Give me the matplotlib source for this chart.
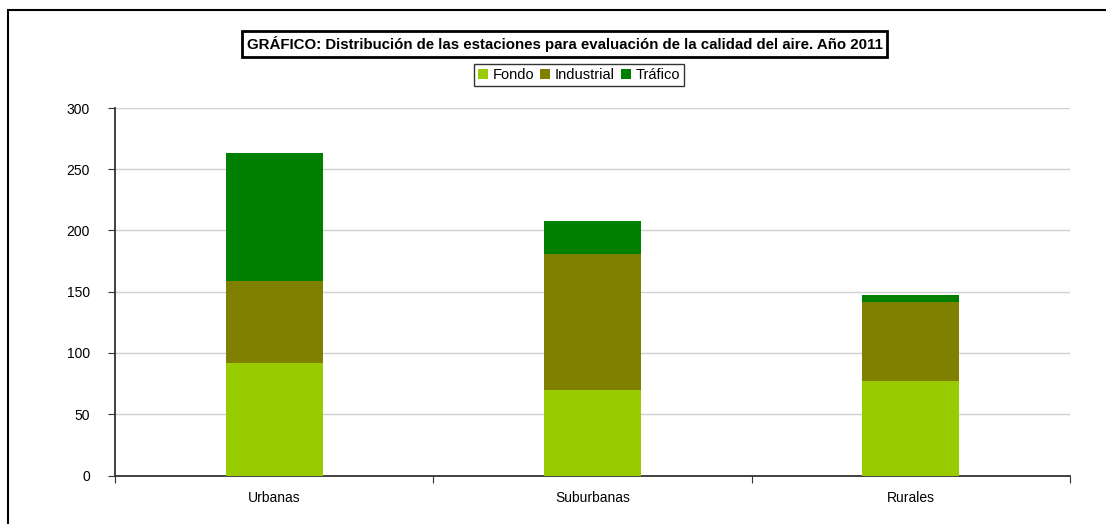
import matplotlib.pyplot as plt
from matplotlib.patches import Rectangle

plt.rcParams['font.family'] = ['Liberation Sans', 'DejaVu Sans']

categories = ['Urbanas', 'Suburbanas', 'Rurales']
fondo = [92, 70, 77]
industrial = [67, 111, 65]
trafico = [104, 27, 5]
series_names = ['Fondo', 'Industrial', 'Tráfico']
colors = ['#99cc00', '#808000', '#008000']

W, H = 1106, 524
fig = plt.figure(figsize=(W / 100, H / 100), dpi=100)
ax = fig.add_axes([115 / W, 1 - 475.5 / H, (1070 - 115) / W, (475.5 - 108) / H])

x = range(len(categories))
bottom2 = [a + b for a, b in zip(fondo, industrial)]
b1 = ax.bar(x, fondo, width=0.305, color=colors[0], zorder=3)
b2 = ax.bar(x, industrial, width=0.305, bottom=fondo, color=colors[1], zorder=3)
b3 = ax.bar(x, trafico, width=0.305, bottom=bottom2, color=colors[2], zorder=3)

ax.set_xlim(-0.5, 2.5)
ax.set_ylim(0, 300)
ax.set_yticks(range(0, 301, 50))
ax.yaxis.grid(True, color='#d0d0d0', linewidth=1, zorder=0)
for s in ['top', 'right']:
    ax.spines[s].set_visible(False)
ax.spines['left'].set_color('#333333')
ax.spines['bottom'].set_color('#333333')
ax.spines['left'].set_linewidth(1.3)
ax.spines['bottom'].set_linewidth(1.3)

# category labels centered, ticks at category borders
ax.set_xticks([-0.5, 0.5, 1.5, 2.5])
ax.set_xticklabels([])
ax.set_xticks(list(x), minor=True)
ax.set_xticklabels(categories, minor=True, fontsize=10)
ax.tick_params(axis='x', which='minor', length=0, pad=11)
ax.tick_params(axis='x', which='major', length=5, color='#333333', direction='out')
ax.tick_params(axis='y', length=5, color='#333333', labelsize=10, pad=13)

fig.text(564.5 / W, 1 - 44 / H,
         'GRÁFICO: Distribución de las estaciones para evaluación de la calidad del aire. Año 2011',
         ha='center', va='center', fontsize=10.8, fontweight='bold',
         bbox=dict(boxstyle='square,pad=0.33', facecolor='white', edgecolor='black', linewidth=2))

fig.legend([b1, b2, b3], series_names, loc='center', bbox_to_anchor=(579 / W, 1 - 75 / H),
           ncol=3, fontsize=10.5, frameon=True, fancybox=False, edgecolor='black',
           handlelength=0.7, handleheight=0.7, handletextpad=0.3, columnspacing=0.4,
           borderpad=0.3, borderaxespad=0)

fig.patches.append(Rectangle((8 / W, -0.1), 1.2, 1 - 9.5 / H + 0.1, transform=fig.transFigure,
                             fill=False, edgecolor='black', linewidth=1.5))

fig.savefig('out.png', dpi=100)
